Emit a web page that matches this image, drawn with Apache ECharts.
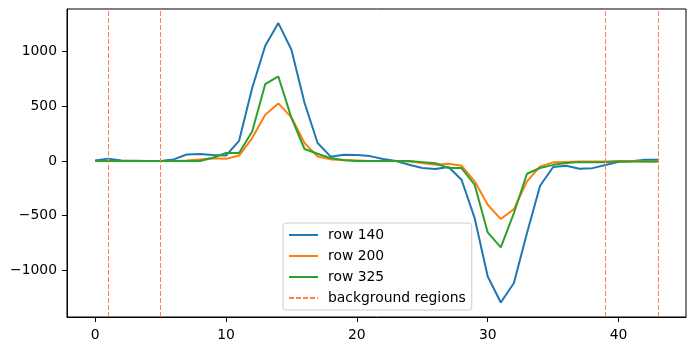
<!DOCTYPE html>
<html>
<head>
<meta charset="utf-8">
<script src="https://cdn.jsdelivr.net/npm/echarts@6/dist/echarts.min.js"></script>
<style>
  html, body { margin: 0; padding: 0; background: #fff; }
  #chart { width: 696px; height: 351px; }
</style>
</head>
<body>
<div id="chart"></div>
<script>
// column index 0..43
var columns = [];
for (var i = 0; i < 44; i++) columns.push(i);

var row140 = [5, 22, 5, 3, 0, 0, 15, 60, 65, 55, 50, 185, 668, 1055, 1262, 1018, 533, 165, 40, 58,
  55, 45, 18, 0, -34, -64, -72, -55, -171, -522, -1056, -1294, -1116, -659, -226, -55, -43, -70, -65, -37,
  -6, -2, 12, 12];
var row200 = [0, 0, 0, 0, 0, 0, 0, 5, 15, 25, 20, 50, 210, 424, 527, 400, 165, 42, 15, 10,
  5, 0, 0, 0, -5, -18, -34, -25, -43, -186, -400, -531, -440, -186, -49, -12, -8, -5, -5, -5,
  0, 0, -5, -5];
var row325 = [0, 0, 0, 0, 0, 0, 0, 0, 0, 30, 73, 73, 270, 704, 774, 395, 110, 67, 27, 8,
  0, 0, 0, 0, 0, -10, -20, -64, -64, -217, -653, -790, -476, -116, -64, -35, -18, -10, -10, -10,
  -5, -5, -5, -5];
var bgLines = [1, 5, 39, 43];
var xTicks = [0, 10, 20, 30, 40];
var yTicks = [-1000, -500, 0, 500, 1000];

function pairs(vals) {
  return columns.map(function (c, k) { return [c, vals[k]]; });
}
function fmt(v) {
  return String(v).replace('-', '\u2212');
}

var chart = echarts.init(document.getElementById('chart'));
var font = 'DejaVu Sans';

function lineSeries(name, vals, color) {
  return {
    name: name,
    type: 'line',
    data: pairs(vals),
    symbol: 'none',
    itemStyle: { color: color },
    lineStyle: { color: color, width: 2 },
    z: 3
  };
}

chart.setOption({
  backgroundColor: '#fff',
  animation: false,
  grid: {
    left: 67, right: 10, top: 9, bottom: 34,
    show: true, borderColor: '#000', borderWidth: 1
  },
  xAxis: {
    type: 'value',
    position: 'bottom',
    min: -2.15, max: 45.15,
    splitLine: { show: false },
    axisLine: { show: true, onZero: false, lineStyle: { color: '#000', width: 1 } },
    axisTick: { show: true, inside: false, length: 5, customValues: xTicks, lineStyle: { color: '#000' } },
    axisLabel: { customValues: xTicks, formatter: fmt, color: '#000', fontSize: 13.9, fontFamily: font, margin: 11 }
  },
  yAxis: {
    type: 'value',
    position: 'left',
    min: -1427, max: 1391,
    splitLine: { show: false },
    axisLine: { show: true, onZero: false, lineStyle: { color: '#000', width: 1 } },
    axisTick: { show: true, inside: false, length: 5, customValues: yTicks, lineStyle: { color: '#000' } },
    axisLabel: { customValues: yTicks, formatter: fmt, color: '#000', fontSize: 13.9, fontFamily: font, margin: 10 }
  },
  legend: {
    orient: 'vertical',
    left: 283, top: 223,
    width: 187,
    padding: [5, 6, 5, 5],
    itemWidth: 29, itemHeight: 14, itemGap: 7,
    backgroundColor: 'rgba(255,255,255,0.8)',
    borderColor: '#ccc', borderWidth: 1, borderRadius: 3,
    itemStyle: { opacity: 0 },
    textStyle: { color: '#000', fontSize: 13.9, fontFamily: font, padding: [0, 0, 0, 5] },
    data: ['row 140', 'row 200', 'row 325', 'background regions']
  },
  series: [
    lineSeries('row 140', row140, '#1f77b4'),
    lineSeries('row 200', row200, '#ff7f0e'),
    lineSeries('row 325', row325, '#2ca02c'),
    {
      name: 'background regions',
      type: 'line',
      data: [],
      symbol: 'none',
      itemStyle: { color: '#ff7f50' },
      lineStyle: { color: '#ff7f50', width: 1, type: [5, 2] },
      z: 4,
      markLine: {
        silent: true,
        symbol: 'none',
        label: { show: false },
        lineStyle: { color: '#ff7f50', width: 1, type: [5, 2] },
        data: bgLines.map(function (v) { return { xAxis: v }; })
      }
    }
  ]
});
</script>
</body>
</html>
